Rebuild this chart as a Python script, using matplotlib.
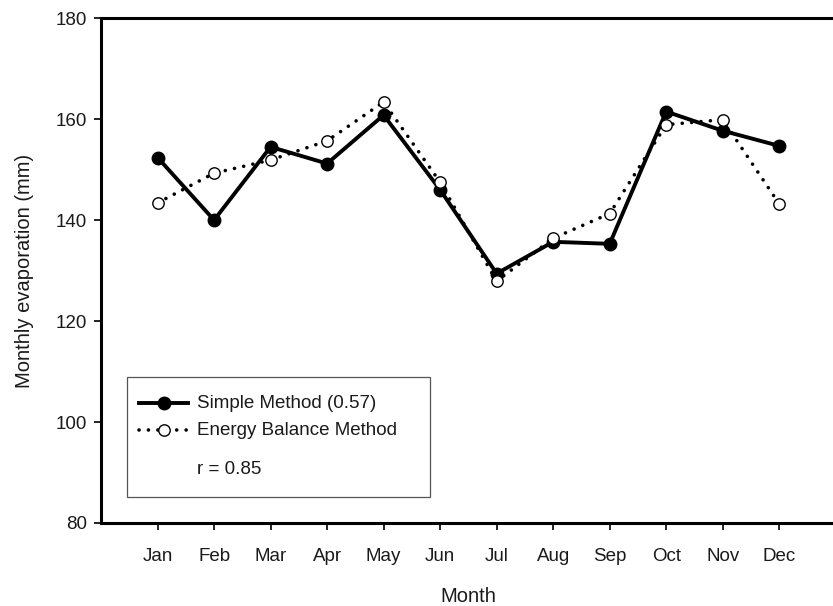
import matplotlib
matplotlib.use("Agg")
import matplotlib.pyplot as plt
from matplotlib.lines import Line2D
from matplotlib.patches import Rectangle

plt.rcParams['font.family'] = ['Liberation Sans', 'DejaVu Sans']

months = ["Jan", "Feb", "Mar", "Apr", "May", "Jun",
          "Jul", "Aug", "Sep", "Oct", "Nov", "Dec"]
simple_method = [152.4, 140.0, 154.5, 151.2, 160.8, 146.0,
                 129.4, 135.7, 135.3, 161.5, 157.7, 154.7]
energy_balance = [143.4, 149.3, 151.9, 155.7, 163.4, 147.5,
                  127.9, 136.4, 141.3, 158.9, 159.9, 143.2]
y_ticks = [80, 100, 120, 140, 160, 180]

x = list(range(1, len(months) + 1))

fig = plt.figure(figsize=(8.33, 6.06), dpi=100)
ax = fig.add_axes([0.1213, 0.137, 0.882, 0.833])

dot_style = (0, (0.01, 2.6))
ax.plot(x, energy_balance, color='black', lw=2.6, linestyle=dot_style,
        dash_capstyle='round', zorder=2)
ax.plot(x, energy_balance, linestyle='none', marker='o', ms=8.2,
        mfc='white', mec='black', mew=1.0, zorder=4)
ax.plot(x, simple_method, color='black', lw=2.8, marker='o', ms=9,
        mfc='black', mec='black', zorder=3)

ax.set_xlim(0, 13)
ax.set_ylim(80, 180)
ax.set_xticks(x)
ax.set_xticklabels(months, fontsize=13.5)
ax.set_yticks(y_ticks)
ax.set_yticklabels([str(v) for v in y_ticks], fontsize=13.5)
ax.tick_params(direction='out', length=5, width=1.2, colors='black',
               labelcolor='#1a1a1a')
ax.tick_params(axis='x', pad=13)
ax.tick_params(axis='y', pad=5)

for side in ['left', 'bottom', 'top']:
    ax.spines[side].set_linewidth(2.2)
ax.spines['right'].set_visible(False)

ax.set_xlabel("Month", fontsize=14.5, labelpad=16, color='#1a1a1a')
ax.set_ylabel("Monthly evaporation (mm)", fontsize=14.5, labelpad=16,
              color='#1a1a1a')

# Legend box with method keys and correlation note
ax.add_patch(Rectangle((0.035, 0.052), 0.413, 0.238, transform=ax.transAxes,
                       fill=False, edgecolor='#555555', lw=0.9, zorder=5))
tr = ax.transAxes
ax.add_line(Line2D([0.052, 0.119], [0.237, 0.237], transform=tr,
                   color='black', lw=2.8, zorder=6))
ax.add_line(Line2D([0.0855], [0.237], transform=tr, marker='o', ms=9,
                   mfc='black', mec='black', zorder=7))
ax.add_line(Line2D([0.052, 0.119], [0.184, 0.184], transform=tr,
                   color='black', lw=2.6, linestyle=dot_style,
                   dash_capstyle='round', zorder=6))
ax.add_line(Line2D([0.0855], [0.184], transform=tr, marker='o', ms=8.2,
                   mfc='white', mec='black', mew=1.0, zorder=7))
ax.text(0.131, 0.237, "Simple Method (0.57)", transform=tr, fontsize=13.5,
        va='center', ha='left', color='#1a1a1a')
ax.text(0.131, 0.184, "Energy Balance Method", transform=tr, fontsize=13.5,
        va='center', ha='left', color='#1a1a1a')
ax.text(0.131, 0.105, "r = 0.85", transform=tr, fontsize=13.5,
        va='center', ha='left', color='#1a1a1a')

fig.savefig("out.png", dpi=100)
